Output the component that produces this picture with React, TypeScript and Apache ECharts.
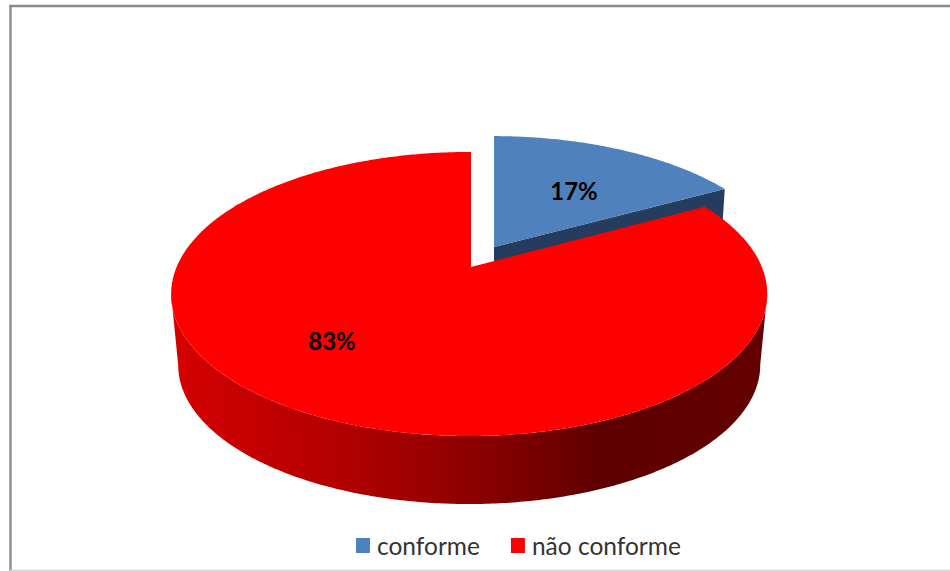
import React, { useEffect, useRef } from "react";
import * as echarts from "echarts";

const categories = ["conforme", "não conforme"];
const shares = [17, 83];
const topColors = ["#4f81bd", "#ff0000"];
const cutFaceColor = "#253c5e";
const labelFont = "Lato, Carlito, 'Open Sans', sans-serif";

// Perspective of the pie: a unit circle in the pie plane mapped to the screen.
const TILT_Y = 0.19;
const TILT_X = 0.006;
const PLANES = [
  {
    top: { cx: 494, cy: 247, a: 288.8, b: 132 },
    bottom: { cx: 494, cy: 318, a: 283, b: 129 },
  },
  {
    top: { cx: 471, cy: 267, a: 292.6, b: 136.9 },
    bottom: { cx: 471, cy: 338.6, a: 285.7, b: 134 },
  },
];
const LABEL_POS = [
  [574, 190],
  [332, 340],
];

type Plane = { cx: number; cy: number; a: number; b: number };

function project(plane: Plane, x: number, y: number): number[] {
  const w = 1 + TILT_Y * y + TILT_X * x;
  return [plane.cx + (plane.a * x) / w, plane.cy - (plane.b * y) / w];
}

function rim(plane: Plane, from: number, to: number): number[][] {
  const steps = Math.max(2, Math.ceil(Math.abs(to - from) / 0.01));
  const pts: number[][] = [];
  for (let i = 0; i <= steps; i++) {
    const t = from + ((to - from) * i) / steps;
    pts.push(project(plane, Math.sin(t), Math.cos(t)));
  }
  return pts;
}

const total = shares.reduce((s, v) => s + v, 0);

function sliceSeries(index: number) {
  const startShare = shares.slice(0, index).reduce((s, v) => s + v, 0);
  return {
    type: "custom",
    name: categories[index],
    coordinateSystem: "none",
    silent: true,
    data: [[shares[index]]],
    renderItem: (_params: unknown, api: any) => {
      const value = api.value(0);
      const start = (startShare / total) * Math.PI * 2;
      const end = start + (value / total) * Math.PI * 2;
      const { top, bottom } = PLANES[index];

      const apexTop = project(top, 0, 0);
      const apexBottom = project(bottom, 0, 0);
      const children: any[] = [];

      // Front wall: the part of the rim that faces the viewer.
      const tangent = Math.acos(-TILT_Y);
      const wallFrom = Math.max(start, tangent);
      const wallTo = Math.min(end, Math.PI * 2 - tangent);
      if (wallTo > wallFrom) {
        children.push({
          type: "polygon",
          shape: {
            points: [...rim(top, wallFrom, wallTo), ...rim(bottom, wallTo, wallFrom)],
          },
          style: {
            fill: new echarts.graphic.LinearGradient(0, 0, 1, 0, [
              { offset: 0, color: "#d60000" },
              { offset: 0.3, color: "#b00000" },
              { offset: 0.5, color: "#8e0000" },
              { offset: 0.72, color: "#5e0000" },
              { offset: 1, color: "#640000" },
            ]),
          },
        });
      } else {
        // Cut face along the slice's trailing edge.
        const tipTop = project(top, Math.sin(end), Math.cos(end));
        const tipBottom = project(bottom, Math.sin(end), Math.cos(end));
        children.push({
          type: "polygon",
          shape: { points: [apexTop, tipTop, tipBottom, apexBottom] },
          style: { fill: cutFaceColor },
        });
      }

      children.push({
        type: "polygon",
        shape: { points: [apexTop, ...rim(top, start, end)] },
        style: { fill: topColors[index] },
      });
      children.push({
        type: "text",
        z2: 10,
        style: {
          text: `${value}%`,
          x: LABEL_POS[index][0],
          y: LABEL_POS[index][1],
          align: "center",
          verticalAlign: "middle",
          fill: "#000000",
          fontSize: 24,
          fontWeight: "bold",
          fontFamily: labelFont,
        },
      });
      return { type: "group", children };
    },
  };
}

export default function App() {
  const ref = useRef<HTMLDivElement>(null);

  useEffect(() => {
    document.body.style.margin = "0";
    const chart = echarts.init(ref.current!, undefined, { renderer: "svg" });
    chart.setOption({
      animation: false,
      backgroundColor: "#ffffff",
      color: topColors,
      legend: {
        data: categories,
        left: 356,
        top: 533,
        padding: 0,
        icon: "rect",
        itemWidth: 14,
        itemHeight: 15,
        itemGap: 31,
        selectedMode: false,
        textStyle: {
          color: "#333333",
          fontSize: 24.5,
          fontFamily: labelFont,
          padding: [0, 0, 0, 2],
        },
      },
      graphic: [
        {
          type: "line",
          shape: { x1: 9, y1: 6, x2: 950, y2: 6 },
          style: { stroke: "#8c8c8c", lineWidth: 2.4 },
        },
        {
          type: "line",
          shape: { x1: 10.5, y1: 5, x2: 10.5, y2: 571 },
          style: { stroke: "#8c8c8c", lineWidth: 2.4 },
        },
        {
          type: "line",
          shape: { x1: 10, y1: 570.5, x2: 950, y2: 570.5 },
          style: { stroke: "#d4d4d4", lineWidth: 1.4 },
        },
      ],
      series: categories.map((_, i) => sliceSeries(i)),
    });
    return () => chart.dispose();
  }, []);

  return <div ref={ref} style={{ width: 950, height: 571 }} />;
}
